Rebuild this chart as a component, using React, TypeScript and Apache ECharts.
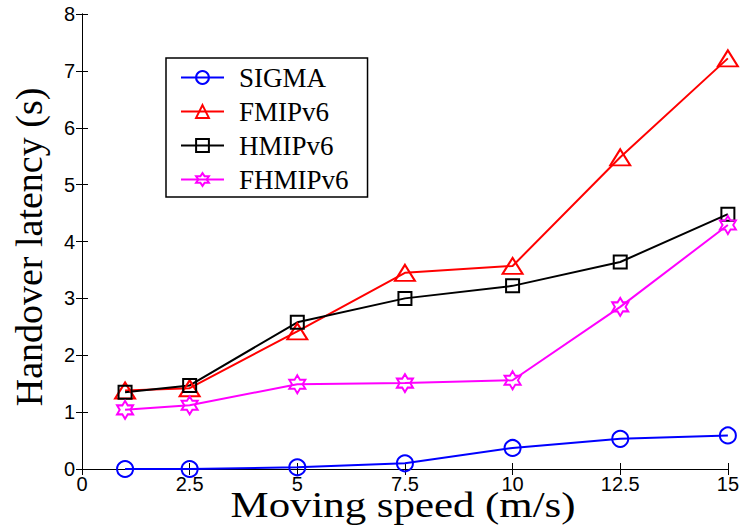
import React, { useEffect, useRef } from "react";
import * as echarts from "echarts";

const speeds = [1, 2.5, 5, 7.5, 10, 12.5, 15];
const sigma = [0, 0, 0.03, 0.1, 0.37, 0.53, 0.59];
const fmipv6 = [1.38, 1.42, 2.42, 3.45, 3.57, 5.48, 7.22];
const hmipv6 = [1.35, 1.47, 2.58, 3.0, 3.22, 3.64, 4.48];
const fhmipv6 = [1.04, 1.12, 1.49, 1.51, 1.56, 2.85, 4.29];
const seriesNames = ["SIGMA", "FMIPv6", "HMIPv6", "FHMIPv6"];

const hexagram =
  "path://M100 0 L128.9 50 L186.6 50 L157.7 100 L186.6 150 L128.9 150 L100 200 L71.1 150 L13.4 150 L42.3 100 L13.4 50 L71.1 50 Z";

function pairs(ys: number[]) {
  return speeds.map((x, i) => [x, ys[i]]);
}

export default function App() {
  const ref = useRef<HTMLDivElement>(null);
  useEffect(() => {
    if (!ref.current) return;
    const chart = echarts.init(ref.current, null, { renderer: "svg" });
    const tickFont = { fontFamily: "Liberation Sans", fontSize: 20, color: "#000" };
    const axisCommon = {
      axisLine: { show: true, lineStyle: { color: "#000", width: 1 } },
      axisTick: { show: true, inside: true, length: 6, lineStyle: { color: "#000", width: 1 } },
      splitLine: { show: false },
    };
    const mk = (name: string, data: number[], color: string, symbol: string, size: any) => ({
      name,
      type: "line",
      data: pairs(data),
      symbol,
      symbolSize: size,
      showSymbol: true,
      lineStyle: { color, width: 2 },
      itemStyle: { color: "transparent", borderColor: color, borderWidth: 2 },
      z: 3,
    });
    chart.setOption({
      animation: false,
      backgroundColor: "#fff",
      grid: { left: 82, right: 12, top: 14, bottom: 58 },
      legend: {
        data: seriesNames,
        orient: "vertical",
        left: 166,
        top: 58,
        padding: [6, 19, 4, 14],
        itemWidth: 43,
        itemHeight: 16,
        itemGap: 7,
        borderColor: "#000",
        borderWidth: 1.5,
        backgroundColor: "#fff",
        textStyle: {
          fontFamily: "Liberation Serif",
          fontSize: 27,
          lineHeight: 22,
          color: "#000",
          padding: [0, 0, 0, 10],
        },
      },
      xAxis: [
        {
          type: "value",
          min: 0,
          max: 15,
          interval: 2.5,
          position: "bottom",
          ...axisCommon,
          axisLabel: { ...tickFont, margin: 5 },
        },
        {
          type: "value",
          min: 0,
          max: 15,
          interval: 2.5,
          position: "top",
          ...axisCommon,
          axisLabel: { show: false },
        },
      ],
      yAxis: [
        {
          type: "value",
          min: 0,
          max: 8,
          interval: 1,
          position: "left",
          ...axisCommon,
          axisLabel: { ...tickFont, margin: 7 },
        },
        {
          type: "value",
          min: 0,
          max: 8,
          interval: 1,
          position: "right",
          ...axisCommon,
          axisLabel: { show: false },
        },
      ],
      graphic: [
        {
          type: "text",
          x: 403,
          y: 505,
          scaleX: 1.19,
          style: {
            text: "Moving speed (m/s)",
            fontFamily: "Liberation Serif",
            fontSize: 36,
            fill: "#000",
            textAlign: "center",
            textVerticalAlign: "middle",
          },
        },
        {
          type: "text",
          x: 29,
          y: 247,
          rotation: Math.PI / 2,
          style: {
            text: "Handover latency (s)",
            fontFamily: "Liberation Serif",
            fontSize: 38,
            fill: "#000",
            textAlign: "center",
            textVerticalAlign: "middle",
          },
        },
      ],
      series: [
        mk(seriesNames[0], sigma, "#0000ff", "circle", 16),
        mk(seriesNames[1], fmipv6, "#ff0000", "triangle", [20, 16]),
        mk(seriesNames[2], hmipv6, "#000000", "rect", 13),
        mk(seriesNames[3], fhmipv6, "#ff00ff", hexagram, [16, 18]),
      ],
    });
    return () => chart.dispose();
  }, []);
  return (
    <div
      ref={ref}
      style={{ position: "fixed", left: 0, top: 0, width: 742, height: 527, background: "#fff" }}
    />
  );
}
